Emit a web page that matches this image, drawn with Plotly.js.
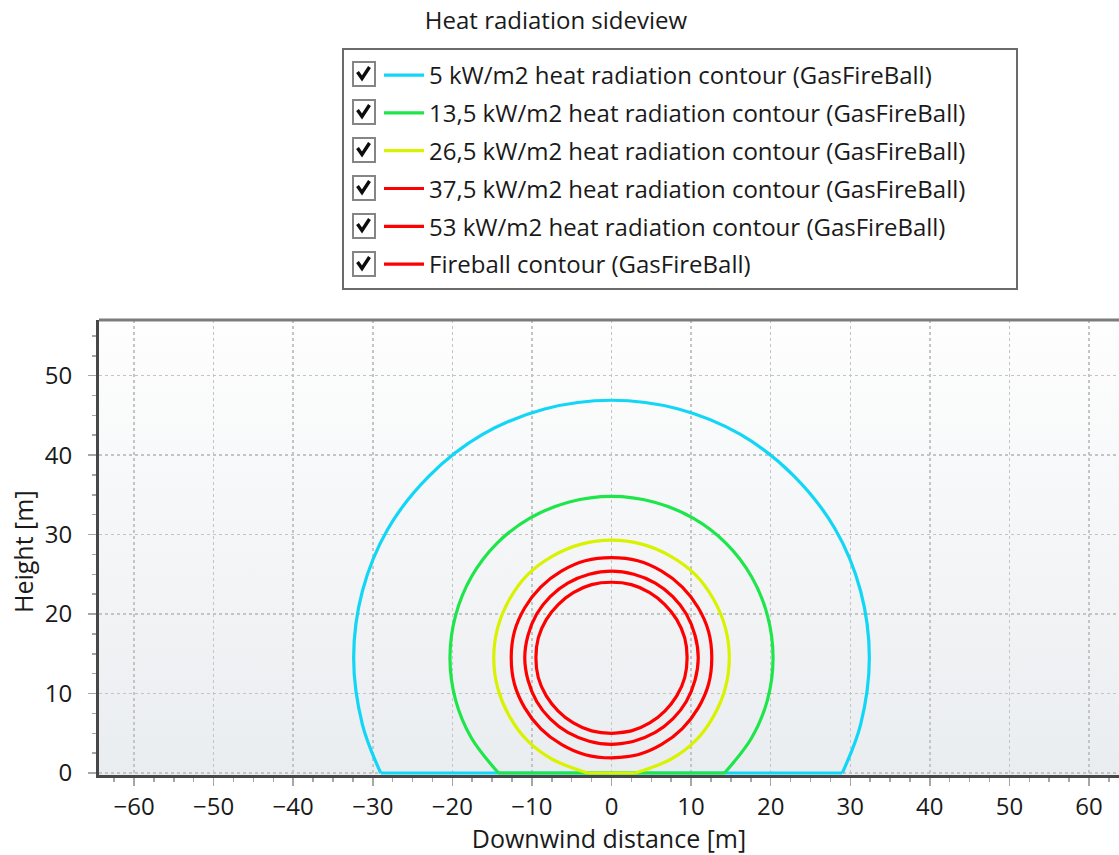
<!DOCTYPE html>
<html>
<head>
<meta charset="utf-8">
<script src="https://cdn.plot.ly/plotly-3.0.1.min.js"></script>
<style>
html,body{margin:0;padding:0;background:#ffffff;overflow:hidden;}
#chart{width:1119px;height:855px;}
</style>
</head>
<body>
<div id="chart"></div>
<script>
// ---- Data ----
const seriesNames = [
  '5 kW/m2 heat radiation contour (GasFireBall)',
  '13,5 kW/m2 heat radiation contour (GasFireBall)',
  '26,5 kW/m2 heat radiation contour (GasFireBall)',
  '37,5 kW/m2 heat radiation contour (GasFireBall)',
  '53 kW/m2 heat radiation contour (GasFireBall)',
  'Fireball contour (GasFireBall)'
];
const seriesColors = ['#12d6f6', '#1ee64a', '#d8f200', '#ff0000', '#ff0000', '#ff0000'];

// contour arcs above ground (m)
const c5X  = [29.0, 31.3, 32.4, 31.3, 28.1, 22.9, 16.2, 8.4, 0, -8.4, -16.2, -22.9, -28.1, -31.3, -32.4, -31.3, -29.0];
const c5Y  = [0, 6.1, 14.5, 22.9, 30.7, 37.4, 42.6, 45.8, 46.9, 45.8, 42.6, 37.4, 30.7, 22.9, 14.5, 6.1, 0];
const c5GroundX = [-29.0, 29.0];

const c13X = [14.2, 17.6, 19.6, 20.3, 19.6, 17.6, 14.4, 10.2, 5.3, 0, -5.3, -10.2, -14.4, -17.6, -19.6, -20.3, -19.6, -17.6, -14.2];
const c13Y = [0, 4.4, 9.2, 14.5, 19.8, 24.7, 28.9, 32.1, 34.1, 34.8, 34.1, 32.1, 28.9, 24.7, 19.8, 14.5, 9.2, 4.4, 0];
const c13GroundX = [-14.2, 14.2];

const c26X = [3.0, 7.4, 10.5, 12.8, 14.3, 14.8, 14.3, 12.8, 10.5, 7.4, 3.8, 0, -3.8, -7.4, -10.5, -12.8, -14.3, -14.8, -14.3, -12.8, -10.5, -7.4, -3.0];
const c26Y = [0, 1.7, 4.0, 7.1, 10.7, 14.5, 18.3, 21.9, 25.0, 27.3, 28.8, 29.3, 28.8, 27.3, 25.0, 21.9, 18.3, 14.5, 10.7, 7.1, 4.0, 1.7, 0];
const c26GroundX = [-3.0, 3.0];

const groundY = [0, 0];

const c37X = [0, 3.3, 6.3, 8.9, 10.9, 12.2, 12.6, 12.2, 10.9, 8.9, 6.3, 3.3, 0, -3.3, -6.3, -8.9, -10.9, -12.2, -12.6, -12.2, -10.9, -8.9, -6.3, -3.3, 0, 3.3];
const c37Y = [1.9, 2.3, 3.6, 5.6, 8.2, 11.2, 14.5, 17.8, 20.8, 23.4, 25.4, 26.7, 27.1, 26.7, 25.4, 23.4, 20.8, 17.8, 14.5, 11.2, 8.2, 5.6, 3.6, 2.3, 1.9, 2.3];

const c53X = [0, 2.8, 5.5, 7.7, 9.4, 10.5, 10.9, 10.5, 9.4, 7.7, 5.5, 2.8, 0, -2.8, -5.5, -7.7, -9.4, -10.5, -10.9, -10.5, -9.4, -7.7, -5.5, -2.8, 0, 2.8];
const c53Y = [3.6, 4.0, 5.1, 6.8, 9.0, 11.7, 14.5, 17.3, 20.0, 22.2, 23.9, 25.0, 25.4, 25.0, 23.9, 22.2, 20.0, 17.3, 14.5, 11.7, 9.0, 6.8, 5.1, 4.0, 3.6, 4.0];

const fireX = [0, 2.5, 4.8, 6.7, 8.2, 9.2, 9.5, 9.2, 8.2, 6.7, 4.8, 2.5, 0, -2.5, -4.8, -6.7, -8.2, -9.2, -9.5, -9.2, -8.2, -6.7, -4.8, -2.5, 0, 2.5];
const fireY = [5.0, 5.3, 6.3, 7.8, 9.7, 12.0, 14.5, 17.0, 19.3, 21.2, 22.7, 23.7, 24.0, 23.7, 22.7, 21.2, 19.3, 17.0, 14.5, 12.0, 9.7, 7.8, 6.3, 5.3, 5.0, 5.3];

const xTickVals = [-60, -50, -40, -30, -20, -10, 0, 10, 20, 30, 40, 50, 60];
const yTickVals = [0, 10, 20, 30, 40, 50];

// ---- Layout geometry (pixels) ----
const W = 1119, H = 855;
const ML = 99, MR = 0, MT = 320, MB = 80;
const PW = W - ML - MR, PH = H - MT - MB;
function px(x) { return (x - ML) / PW; }
function py(y) { return (H - MB - y) / PH; }

const FONT = 'Open Sans, Noto Sans, sans-serif';
const FS = 24;

function contour(xs, ys, i) {
  return {type: 'scatter', mode: 'lines', x: xs, y: ys, name: seriesNames[i], legendgroup: 'g' + i,
    line: {color: seriesColors[i], width: 3.2, shape: 'spline', smoothing: 1}, hoverinfo: 'skip'};
}
function ground(xs, i) {
  return {type: 'scatter', mode: 'lines', x: xs, y: groundY, name: seriesNames[i], legendgroup: 'g' + i,
    showlegend: false, line: {color: seriesColors[i], width: 3.2}, hoverinfo: 'skip'};
}

const traces = [
  contour(c5X, c5Y, 0), ground(c5GroundX, 0),
  contour(c13X, c13Y, 1), ground(c13GroundX, 1),
  contour(c26X, c26Y, 2), ground(c26GroundX, 2),
  contour(c37X, c37Y, 3),
  contour(c53X, c53Y, 4),
  contour(fireX, fireY, 5)
];

// legend box + checkboxes
const rowCenters = [75, 113, 151, 189, 227, 265];
const shapes = [];
shapes.push({type: 'rect', xref: 'paper', yref: 'paper', x0: px(343), x1: px(1017), y0: py(289), y1: py(49),
  line: {color: '#6b6b6b', width: 2}, fillcolor: '#ffffff', layer: 'above'});
rowCenters.forEach(yc => {
  shapes.push({type: 'rect', xref: 'paper', yref: 'paper', x0: px(353), x1: px(375), y0: py(yc + 11), y1: py(yc - 13),
    line: {color: '#858585', width: 2}, fillcolor: '#ffffff', layer: 'above'});
  const p = 'M' + px(357.5) + ',' + py(yc - 3) + ' L' + px(362) + ',' + py(yc + 3.5) + ' L' + px(369.5) + ',' + py(yc - 8);
  shapes.push({type: 'path', xref: 'paper', yref: 'paper', path: p, line: {color: '#0d0d0d', width: 3.4}, layer: 'above'});
});
// top border of plot
shapes.push({type: 'line', xref: 'paper', yref: 'paper', x0: 0, x1: 1, y0: 1, y1: 1, line: {color: '#7c7c7c', width: 3}, layer: 'above'});

const gradSvg = '<svg xmlns="http://www.w3.org/2000/svg" width="10" height="100" preserveAspectRatio="none">' +
  '<defs><linearGradient id="g" x1="0" y1="0" x2="0" y2="1">' +
  '<stop offset="0" stop-color="#fefefe"/><stop offset="1" stop-color="#eaedf0"/></linearGradient></defs>' +
  '<rect width="10" height="100" fill="url(#g)"/></svg>';

const axisCommon = {
  showline: true, linecolor: '#474747', linewidth: 3,
  showgrid: true, gridcolor: '#c4c4c4', gridwidth: 1.5, griddash: 'dot',
  zeroline: false,
  ticks: 'outside', ticklen: 8, tickwidth: 1.5, tickcolor: '#a6a6a6',
  tickfont: {family: FONT, size: FS, color: '#1a1a1a'},
  minor: {ticks: 'outside', ticklen: 4, tickwidth: 1.5, tickcolor: '#a6a6a6', dtick: 2.5, showgrid: false},
  layer: 'below traces',
  automargin: false,
  fixedrange: true
};

const layout = {
  width: W, height: H,
  margin: {l: ML, r: MR, t: MT, b: MB, pad: 0, autoexpand: false},
  paper_bgcolor: '#ffffff',
  plot_bgcolor: 'rgba(0,0,0,0)',
  font: {family: FONT, color: '#1a1a1a'},
  title: {text: 'Heat radiation sideview', font: {family: FONT, size: FS, color: '#1a1a1a'},
    xref: 'container', yref: 'container', x: 556 / W, xanchor: 'center', y: 1 - 21 / H, yanchor: 'middle', automargin: false},
  xaxis: Object.assign({}, axisCommon, {
    range: [-64.4, 63.77], tickmode: 'array', tickvals: xTickVals, tickangle: 0,
    title: {text: 'Downwind distance [m]', font: {family: FONT, size: 25, color: '#1a1a1a'}, standoff: 4}
  }),
  yaxis: Object.assign({}, axisCommon, {
    range: [-0.25, 57], tickmode: 'array', tickvals: yTickVals, ticklabelstandoff: 11
  }),
  annotations: [{text: 'Height [m]', xref: 'paper', yref: 'paper', x: px(23), y: py(552),
    xanchor: 'center', yanchor: 'middle', textangle: -90, showarrow: false,
    font: {family: FONT, size: 25, color: '#1a1a1a'}}],
  showlegend: true,
  legend: {
    xref: 'container', yref: 'container', x: 379 / W, xanchor: 'left', y: 1 - 53 / H, yanchor: 'top',
    bgcolor: 'rgba(0,0,0,0)', borderwidth: 0,
    font: {family: FONT, size: FS, color: '#1a1a1a'},
    traceorder: 'grouped', tracegroupgap: 3.6, itemwidth: 40, itemclick: false, itemdoubleclick: false
  },
  shapes: shapes,
  images: [{source: 'data:image/svg+xml;utf8,' + encodeURIComponent(gradSvg),
    xref: 'paper', yref: 'paper', x: 0, y: 1, sizex: 1, sizey: 1, xanchor: 'left', yanchor: 'top',
    sizing: 'stretch', layer: 'below'}]
};

Plotly.newPlot('chart', traces, layout, {displayModeBar: false, responsive: false, staticPlot: true});
</script>
</body>
</html>
